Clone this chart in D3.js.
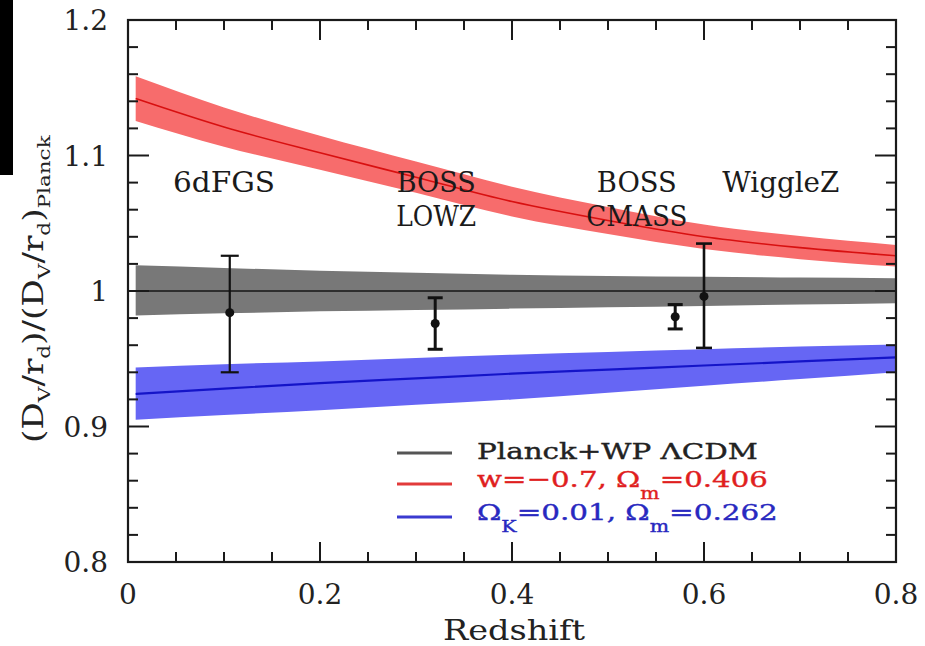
<!DOCTYPE html>
<html>
<head>
<meta charset="utf-8">
<script src="https://cdn.jsdelivr.net/npm/d3@7"></script>
<style>
  html, body { margin: 0; padding: 0; background: #fff; }
  svg { display: block; }
  text { font-family: "DejaVu Serif", "Liberation Serif", serif; }
</style>
</head>
<body>
<svg id="chart" width="925" height="646"></svg>
<script>
// Redshift grid on which the model bands are sampled
const zGrid = [0.008, 0.1, 0.2, 0.3, 0.4, 0.5, 0.6, 0.7, 0.8];

// Planck+WP ΛCDM band
const planckMid = [1.0, 1.0, 1.0, 1.0, 1.0, 1.0, 1.0, 1.0, 1.0];
const planckHi  = [1.019, 1.017, 1.015, 1.0135, 1.012, 1.011, 1.0105, 1.010, 1.0095];
const planckLo  = [0.982, 0.9835, 0.985, 0.986, 0.987, 0.988, 0.989, 0.990, 0.991];

// w = -0.7, Ωm = 0.406 band
const wMid = [1.142, 1.121, 1.102, 1.084, 1.066, 1.052, 1.040, 1.032, 1.026];
const wHi  = [1.1585, 1.1355, 1.1145, 1.0955, 1.077, 1.062, 1.049, 1.0405, 1.034];
const wLo  = [1.1255, 1.1065, 1.0895, 1.0725, 1.055, 1.042, 1.031, 1.0235, 1.018];

// ΩK = 0.01, Ωm = 0.262 band
const kMid = [0.924, 0.928, 0.932, 0.9355, 0.939, 0.942, 0.945, 0.948, 0.951];
const kHi  = [0.9435, 0.946, 0.948, 0.9505, 0.953, 0.955, 0.957, 0.959, 0.9605];
const kLo  = [0.905, 0.9085, 0.912, 0.916, 0.920, 0.925, 0.930, 0.935, 0.940];

// BAO measurements
const surveys     = ["6dFGS", "BOSS LOWZ", "BOSS CMASS", "WiggleZ"];
const surveyZ     = [0.106, 0.32, 0.57, 0.60];
const surveyRatio = [0.984, 0.976, 0.981, 0.996];
const surveyLo    = [0.940, 0.957, 0.972, 0.958];
const surveyHi    = [1.026, 0.995, 0.990, 1.035];

// Axis ticks
const xTicks = [0, 0.2, 0.4, 0.6, 0.8];
const xTickLabels = ["0", "0.2", "0.4", "0.6", "0.8"];
const yTicks = [0.8, 0.9, 1.0, 1.1, 1.2];
const yTickLabels = ["0.8", "0.9", "1", "1.1", "1.2"];

// ---------------------------------------------------------------
const svg = d3.select("#chart");
const plot = { left: 128, right: 896, top: 20, bottom: 562 };

const x = d3.scaleLinear().domain([0, 0.8]).range([plot.left, plot.right]);
const y = d3.scaleLinear().domain([0.8, 1.2]).range([plot.bottom, plot.top]);

// dark strip along the top-left edge
svg.append("rect").attr("x", 0).attr("y", 0).attr("width", 13).attr("height", 175).attr("fill", "#000");

const bands = [
  { mid: wMid, hi: wHi, lo: wLo, fill: "#f76c6c", line: "#d81010", lw: 1.6 },
  { mid: planckMid, hi: planckHi, lo: planckLo, fill: "#787878", line: "#2e2e2e", lw: 2.2 },
  { mid: kMid, hi: kHi, lo: kLo, fill: "#6666f4", line: "#1414c8", lw: 2.2 }
];

const area = d3.area()
  .x((d, i) => x(zGrid[i]))
  .y0(d => y(d[0]))
  .y1(d => y(d[1]))
  .curve(d3.curveMonotoneX);
const line = d3.line()
  .x((d, i) => x(zGrid[i]))
  .y(d => y(d))
  .curve(d3.curveMonotoneX);

bands.forEach(b => {
  svg.append("path")
    .datum(b.lo.map((v, i) => [v, b.hi[i]]))
    .attr("d", area)
    .attr("fill", b.fill);
});
bands.forEach(b => {
  svg.append("path")
    .datum(b.mid)
    .attr("d", line)
    .attr("fill", "none")
    .attr("stroke", b.line)
    .attr("stroke-width", b.lw);
});

// Measurements with error bars
const capW = [18, 15, 15, 16];
const barW = [2.2, 3, 3, 2.6];
const pts = svg.append("g").attr("fill", "#111").attr("stroke", "#111");
surveys.forEach((s, i) => {
  const cx = x(surveyZ[i]);
  pts.append("line").attr("x1", cx).attr("x2", cx)
    .attr("y1", y(surveyLo[i])).attr("y2", y(surveyHi[i]))
    .attr("stroke-width", barW[i]);
  [surveyLo[i], surveyHi[i]].forEach(v => {
    pts.append("line").attr("x1", cx - capW[i] / 2).attr("x2", cx + capW[i] / 2)
      .attr("y1", y(v)).attr("y2", y(v)).attr("stroke-width", barW[i]);
  });
  pts.append("circle").attr("cx", cx).attr("cy", y(surveyRatio[i])).attr("r", 4.5).attr("stroke", "none");
});

// Frame and ticks (mirrored on all four sides, pointing inwards)
const frame = svg.append("g").attr("stroke", "#1a1a1a");
frame.append("rect")
  .attr("x", plot.left).attr("y", plot.top)
  .attr("width", plot.right - plot.left).attr("height", plot.bottom - plot.top)
  .attr("fill", "none").attr("stroke-width", 2.2);

const xMinor = d3.range(0, 0.8001, 0.05);
const yMinor = d3.range(0.8, 1.2001, 0.02);
const isMajorX = v => Math.abs(v / 0.2 - Math.round(v / 0.2)) < 1e-6;
const isMajorY = v => Math.abs(v / 0.1 - Math.round(v / 0.1)) < 1e-6;

xMinor.forEach(v => {
  const L = isMajorX(v) ? 20 : 10;
  frame.append("line").attr("x1", x(v)).attr("x2", x(v))
    .attr("y1", plot.bottom).attr("y2", plot.bottom - L).attr("stroke-width", 2);
  frame.append("line").attr("x1", x(v)).attr("x2", x(v))
    .attr("y1", plot.top).attr("y2", plot.top + L).attr("stroke-width", 2);
});
yMinor.forEach(v => {
  const L = isMajorY(v) ? 21 : 10;
  frame.append("line").attr("x1", plot.left).attr("x2", plot.left + L)
    .attr("y1", y(v)).attr("y2", y(v)).attr("stroke-width", 2);
  frame.append("line").attr("x1", plot.right).attr("x2", plot.right - L)
    .attr("y1", y(v)).attr("y2", y(v)).attr("stroke-width", 2);
});

// Tick labels
const tickFont = 28;
svg.append("g").selectAll("text").data(xTicks).join("text")
  .attr("x", d => x(d)).attr("y", 604)
  .attr("text-anchor", "middle").attr("font-size", tickFont).attr("fill", "#222")
  .text((d, i) => xTickLabels[i]);
svg.append("g").selectAll("text").data(yTicks).join("text")
  .attr("x", 108).attr("y", d => y(d) + 10)
  .attr("text-anchor", "end").attr("font-size", tickFont).attr("fill", "#222")
  .text((d, i) => yTickLabels[i]);

// Stretch a group of text along its own direction to a target length
function fit(g, target) {
  const w = g.select("text").node().getComputedTextLength();
  const base = g.attr("data-base") || "";
  g.attr("transform", `${base} scale(${target / w},1)`);
}

// Write a run of [string, isSubscript] parts into a text element
function writeParts(t, parts, subSize, drop) {
  let low = false;
  parts.forEach(([s, isSub]) => {
    const ts = t.append("tspan").text(s);
    if (isSub && !low) { ts.attr("font-size", subSize).attr("dy", drop); low = true; }
    else if (!isSub && low) { ts.attr("dy", -drop); low = false; }
  });
}

// Axis titles
const xt = svg.append("g").attr("data-base", "translate(443,640)");
xt.append("text").attr("font-size", 27).attr("fill", "#222").text("Redshift");
fit(xt, 142);

const yt = svg.append("g").attr("data-base", "translate(43,443) rotate(-90)");
const ytText = yt.append("text").attr("font-size", 27).attr("fill", "#222");
writeParts(ytText, [
  ["(D", 0], ["V", 1], ["/r", 0], ["d", 1], [")/(D", 0], ["V", 1],
  ["/r", 0], ["d", 1], [")", 0], ["Planck", 1]
], 17, 7);
fit(yt, 308);

// Survey labels
const labelLayout = [
  { lines: ["6dFGS"], z: 0.100, widths: [102] },
  { lines: ["BOSS", "LOWZ"], z: 0.321, widths: [79, 80] },
  { lines: ["BOSS", "CMASS"], z: 0.530, widths: [80, 101] },
  { lines: ["WiggleZ"], z: 0.680, widths: [117] }
];
labelLayout.forEach(l => {
  l.lines.forEach((t, j) => {
    svg.append("text")
      .attr("x", x(l.z)).attr("y", 192 + j * 34)
      .attr("text-anchor", "middle").attr("font-size", 28).attr("fill", "#1a1a1a")
      .attr("textLength", l.widths[j]).attr("lengthAdjust", "spacingAndGlyphs")
      .text(t);
  });
});

// Legend
const legendRows = [
  { color: "#555555", text: "#222222", lineY: 453, baseY: 459, width: 281,
    parts: [["Planck+WP ΛCDM", 0]] },
  { color: "#e23a3a", text: "#e01e1e", lineY: 484, baseY: 487, width: 291,
    parts: [["w=−0.7, Ω", 0], ["m", 1], ["=0.406", 0]] },
  { color: "#3a3ad0", text: "#2828c0", lineY: 517, baseY: 520, width: 301,
    parts: [["Ω", 0], ["K", 1], ["=0.01, Ω", 0], ["m", 1], ["=0.262", 0]] }
];
legendRows.forEach(r => {
  svg.append("line").attr("x1", 397).attr("x2", 452)
    .attr("y1", r.lineY).attr("y2", r.lineY)
    .attr("stroke", r.color).attr("stroke-width", 3);
  const g = svg.append("g").attr("data-base", `translate(477,${r.baseY})`);
  const t = g.append("text").attr("font-size", 23).attr("fill", r.text)
    .attr("stroke", r.text).attr("stroke-width", 0.4);
  writeParts(t, r.parts, 16, 12);
  fit(g, r.width);
});
</script>
</body>
</html>
